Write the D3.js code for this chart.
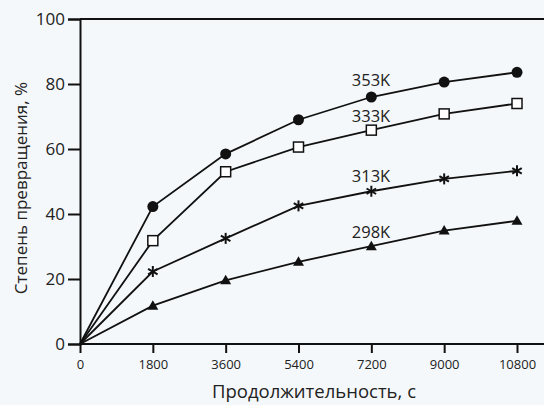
<!DOCTYPE html>
<html>
<head>
<meta charset="utf-8">
<script src="https://cdn.jsdelivr.net/npm/d3@7"></script>
<style>
  body { margin: 0; background: #f5f8fa; }
  svg { display: block; }
</style>
</head>
<body>
<div id="grafico"></div>
<script>
// Данные
const vremya = [0, 1800, 3600, 5400, 7200, 9000, 10800];
const xTicks = [0, 1800, 3600, 5400, 7200, 9000, 10800];
const yTicks = [0, 20, 40, 60, 80, 100];

const temp353 = [0, 42.3, 58.5, 69, 76, 80.6, 83.6];
const temp333 = [0, 31.8, 53, 60.6, 65.8, 70.8, 74];
const temp313 = [0, 22.3, 32.5, 42.5, 47, 50.8, 53.3];
const temp298 = [0, 11.8, 19.6, 25.3, 30.1, 34.9, 37.9];

const serii = [
  { name: "353K", values: temp353, marker: "circle" },
  { name: "333K", values: temp333, marker: "square" },
  { name: "313K", values: temp313, marker: "star" },
  { name: "298K", values: temp298, marker: "triangle" }
];

const fuente = "'Open Sans', 'DejaVu Sans', sans-serif";
const ancho = 544, alto = 405;

const svg = d3.select("#grafico")
  .append("svg")
  .attr("width", ancho)
  .attr("height", alto);

const x = d3.scaleLinear().domain([0, 10800]).range([80, 517]);
const y = d3.scaleLinear().domain([0, 100]).range([344, 19]);

// верхняя линия рамки
svg.append("line")
  .attr("x1", x(0)).attr("x2", ancho)
  .attr("y1", y(100)).attr("y2", y(100))
  .attr("stroke", "#111").attr("stroke-width", 2);

// ось X
const ejeX = svg.append("g")
  .attr("transform", `translate(0,${y(0)})`)
  .call(d3.axisBottom(x).tickValues(xTicks).tickSize(9).tickPadding(7).tickFormat(d3.format("d")));
ejeX.select(".domain").remove();
ejeX.append("line")
  .attr("x1", x(0)).attr("x2", ancho)
  .attr("stroke", "#111").attr("stroke-width", 2);
ejeX.selectAll(".tick line").attr("stroke", "#111").attr("stroke-width", 2);
ejeX.selectAll(".tick text")
  .attr("fill", "#222")
  .style("font-family", fuente)
  .style("font-size", "13px");

// ось Y
const ejeY = svg.append("g")
  .attr("transform", `translate(${x(0)},0)`)
  .call(d3.axisLeft(y).tickValues(yTicks).tickSize(12).tickPadding(3));
ejeY.select(".domain").attr("stroke", "#111").attr("stroke-width", 2);
ejeY.selectAll(".tick line").attr("stroke", "#111").attr("stroke-width", 2);
ejeY.selectAll(".tick text")
  .attr("fill", "#222")
  .style("font-family", fuente)
  .style("font-size", "17px");

// подписи осей
svg.append("text")
  .attr("transform", "translate(27,188) rotate(-90)")
  .attr("text-anchor", "middle")
  .attr("fill", "#222")
  .style("font-family", fuente)
  .style("font-size", "17px")
  .text("Степень превращения, %");

svg.append("text")
  .attr("x", 314)
  .attr("y", 398)
  .attr("text-anchor", "middle")
  .attr("fill", "#222")
  .style("font-family", fuente)
  .style("font-size", "18.5px")
  .text("Продолжительность, с");

// линии
const linea = d3.line()
  .x((d, i) => x(vremya[i]))
  .y(d => y(d));

serii.forEach(s => {
  svg.append("path")
    .datum(s.values)
    .attr("d", linea)
    .attr("fill", "none")
    .attr("stroke", "#111")
    .attr("stroke-width", 1.8);
});

// маркеры (без точки в начале координат)
serii.forEach(s => {
  const g = svg.append("g");
  s.values.forEach((v, i) => {
    if (i === 0) return;
    const cx = x(vremya[i]), cy = y(v);
    if (s.marker === "circle") {
      g.append("circle").attr("cx", cx).attr("cy", cy).attr("r", 5.5).attr("fill", "#111");
    } else if (s.marker === "square") {
      g.append("rect").attr("x", cx - 5).attr("y", cy - 5)
        .attr("width", 10).attr("height", 10)
        .attr("fill", "#fff").attr("stroke", "#111").attr("stroke-width", 1.5);
    } else if (s.marker === "triangle") {
      g.append("path")
        .attr("d", `M${cx},${cy - 5.5}L${cx + 5.5},${cy + 4}L${cx - 5.5},${cy + 4}Z`)
        .attr("fill", "#111");
    } else {
      [0, 60, 120].forEach(a => {
        const r = 5.5, rad = a * Math.PI / 180 + Math.PI / 2;
        g.append("line")
          .attr("x1", cx - r * Math.cos(rad)).attr("y1", cy - r * Math.sin(rad))
          .attr("x2", cx + r * Math.cos(rad)).attr("y2", cy + r * Math.sin(rad))
          .attr("stroke", "#111").attr("stroke-width", 2);
      });
    }
  });
});

// подписи температур
const etiquetas = [
  { t: "353K", at: 79.5 },
  { t: "333K", at: 68.3 },
  { t: "313K", at: 50 },
  { t: "298K", at: 32.5 }
];
svg.selectAll("text.temp")
  .data(etiquetas)
  .enter().append("text")
  .attr("class", "temp")
  .attr("x", 371)
  .attr("y", d => y(d.at))
  .attr("text-anchor", "middle")
  .attr("fill", "#222")
  .style("font-family", fuente)
  .style("font-size", "16.5px")
  .text(d => d.t);
</script>
</body>
</html>
